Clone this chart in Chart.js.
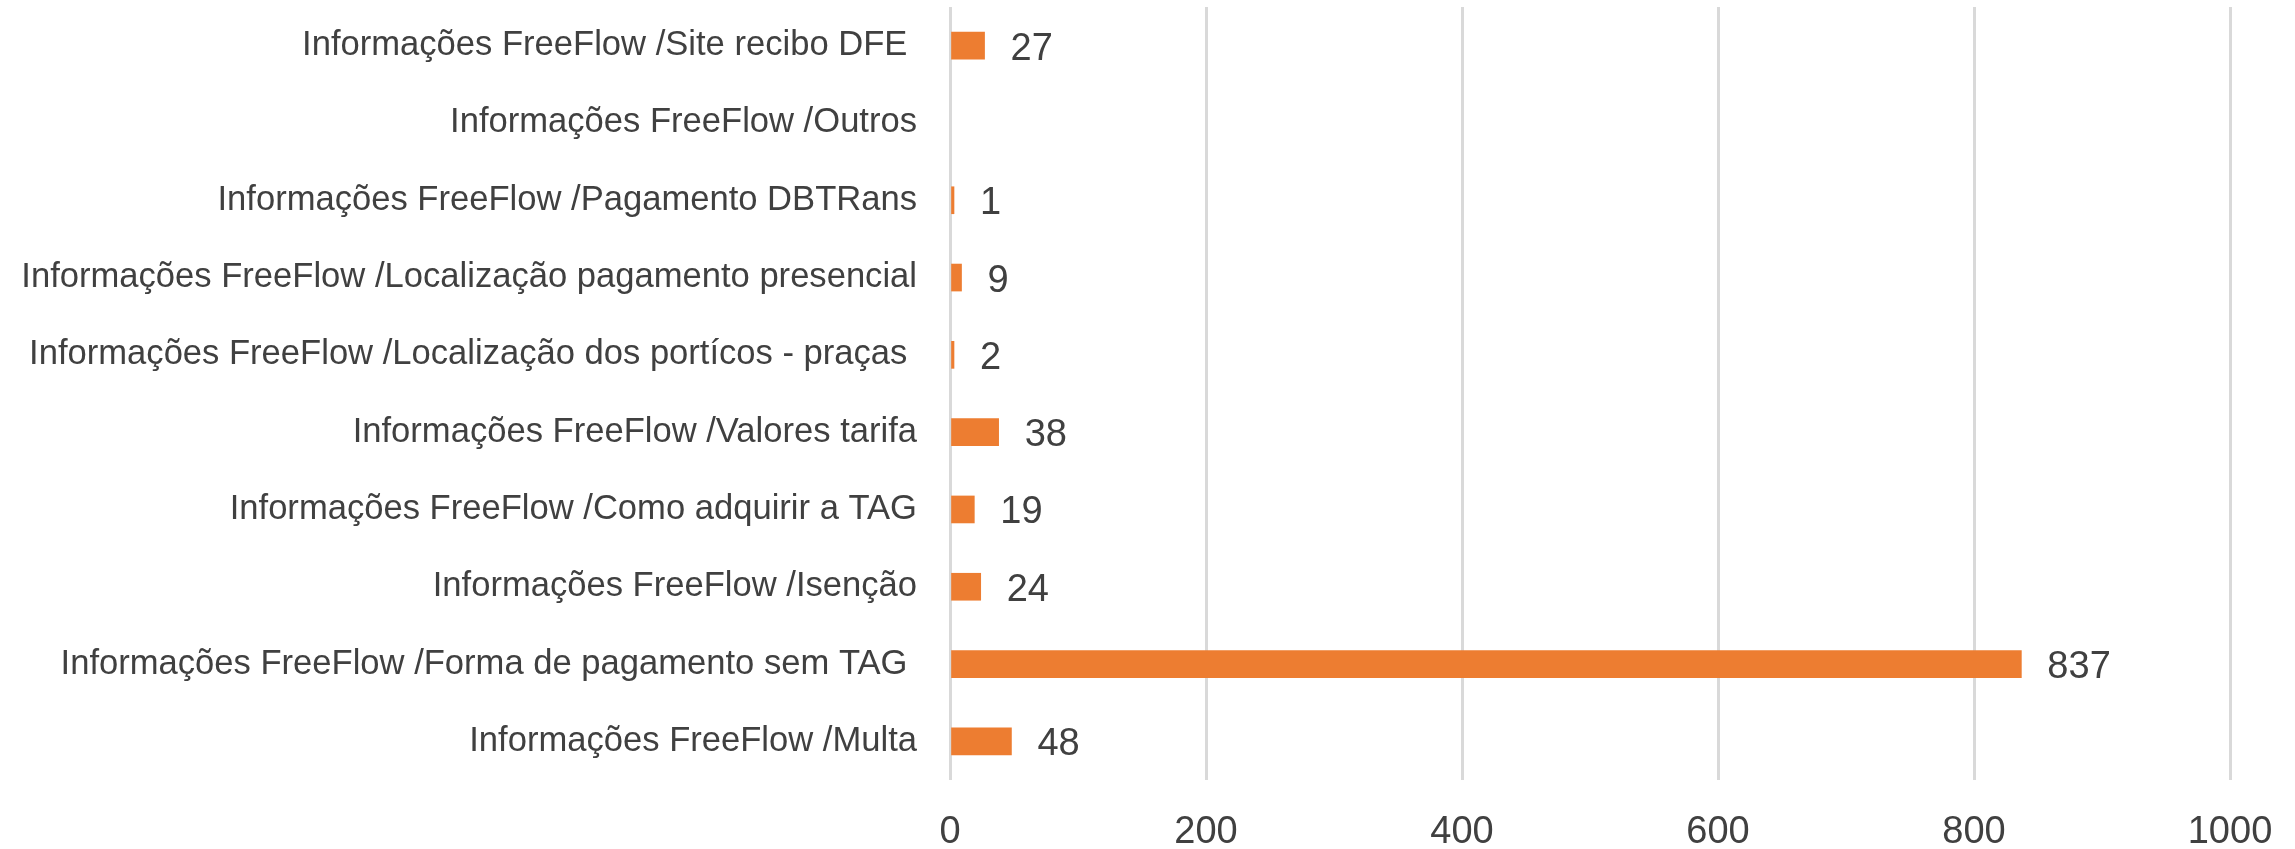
<!DOCTYPE html>
<html>
<head>
<meta charset="utf-8">
<script src="https://cdn.jsdelivr.net/npm/chart.js@4.4.1/dist/chart.umd.min.js"></script>
<style>
  html, body { margin: 0; padding: 0; background: #ffffff; }
  #wrap { width: 2295px; height: 849px; position: relative; }
</style>
</head>
<body>
<div id="wrap"><canvas id="grafico"></canvas></div>
<script>
// categorias (de cima para baixo) e quantidades
const categorias = [
    'Informações FreeFlow /Site recibo DFE ',
    'Informações FreeFlow /Outros',
    'Informações FreeFlow /Pagamento DBTRans',
    'Informações FreeFlow /Localização pagamento presencial',
    'Informações FreeFlow /Localização dos portícos - praças ',
    'Informações FreeFlow /Valores tarifa',
    'Informações FreeFlow /Como adquirir a TAG',
    'Informações FreeFlow /Isenção',
    'Informações FreeFlow /Forma de pagamento sem TAG ',
    'Informações FreeFlow /Multa'
];
const quantidades = [27, null, 1, 9, 2, 38, 19, 24, 837, 48];
const ticksX = [0, 200, 400, 600, 800, 1000];

const corBarra = '#ED7D31';
const corTexto = '#404040';
const fonte = '"Liberation Sans", Arial, sans-serif';

// rotulos de valor ao lado de cada barra
const rotulosValor = {
    id: 'rotulosValor',
    afterDatasetsDraw(chart) {
        const ctx = chart.ctx;
        const meta = chart.getDatasetMeta(0);
        ctx.save();
        ctx.font = '38px ' + fonte;
        ctx.fillStyle = corTexto;
        ctx.textAlign = 'left';
        ctx.textBaseline = 'alphabetic';
        meta.data.forEach((barra, i) => {
            const v = quantidades[i];
            if (v === null || v === undefined) return;
            ctx.fillText(String(v), barra.x + 26, barra.y + 14);
        });
        ctx.restore();
    }
};

const ctx = document.getElementById('grafico').getContext('2d');

window.graficaFreeFlow = new Chart(ctx, {
    type: 'bar',
    data: {
        labels: categorias,
        datasets: [{
            data: quantidades,
            backgroundColor: corBarra,
            barThickness: 27,
            minBarLength: 4
        }]
    },
    options: {
        indexAxis: 'y',
        responsive: true,
        maintainAspectRatio: false,
        animation: false,
        events: [],
        layout: { padding: { top: 7, right: 65, bottom: 0, left: 0 } },
        plugins: {
            legend: { display: false },
            tooltip: { enabled: false }
        },
        scales: {
            x: {
                min: 0,
                max: 1000,
                afterBuildTicks: (s) => { s.ticks = ticksX.map(v => ({ value: v })); },
                afterFit: (s) => {
                    s.height = 69;
                    s.paddingLeft = 0;
                    s.paddingRight = 0;
                },
                grid: { color: '#D9D9D9', lineWidth: 3, drawTicks: false },
                border: { display: false },
                ticks: {
                    padding: 30,
                    color: corTexto,
                    callback: (v) => String(v),
                    font: { family: fonte, size: 38 }
                }
            },
            y: {
                afterFit: (s) => {
                    s.width = 950;
                    s.paddingTop = 0;
                    s.paddingBottom = 0;
                },
                grid: { display: false, drawTicks: false },
                border: { display: false },
                ticks: {
                    padding: 33,
                    color: corTexto,
                    autoSkip: false,
                    font: { family: fonte, size: 34.6 }
                }
            }
        }
    },
    plugins: [rotulosValor]
});
</script>
</body>
</html>
